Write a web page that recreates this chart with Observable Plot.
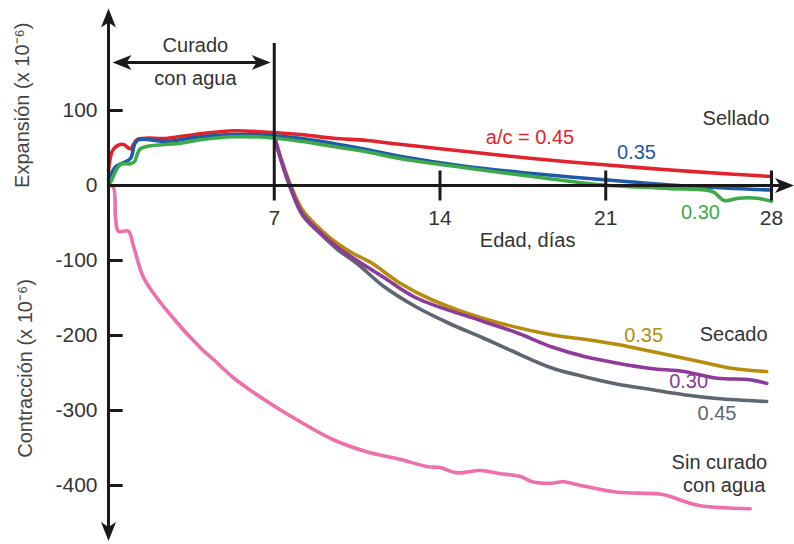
<!DOCTYPE html>
<html>
<head>
<meta charset="utf-8">
<script src="https://cdn.jsdelivr.net/npm/d3@7"></script>
<script src="https://cdn.jsdelivr.net/npm/@observablehq/plot@0.6"></script>
<style>
  html, body { margin: 0; padding: 0; background: #fff; }
  #chart { width: 794px; height: 544px; }
</style>
</head>
<body>
<div id="chart"></div>
<script>
// ---- Data (day, strain x 10^-6) ----
const sealed045 = [[0,20],[0.2,48],[0.6,55],[0.93,49],[1.2,61],[2.5,63],[3.9,69],[5.3,73],[6.7,71],[8.1,68],[9.5,63],[10.9,60],[12.3,55],[15.2,45],[17.9,36],[20.8,28],[23.6,21],[26.4,15],[28,12]];
const sealed035 = [[0,8],[0.3,25],[0.6,30],[0.93,36],[1.1,55],[1.25,61],[2.5,59],[3.9,65],[5.3,68],[6.7,67],[8.1,63],[9.5,56],[10.9,48],[12.3,39],[15.2,25],[17.9,16],[20.8,8],[23.6,1],[26.4,-4],[28,-6]];
const sealed030 = [[0,0],[0.1,5],[0.5,28],[0.93,29],[1.1,32],[1.35,49],[2.5,55],[3.0,56],[3.9,61],[5.3,65],[6.7,64],[8.1,59],[9.5,52],[10.9,45],[12.3,36],[15.2,23],[17.9,12],[20.8,1],[23.6,-4],[25.5,-8],[26.0,-20],[26.6,-17],[27.4,-17],[28,-21]];
const dried035 = [[7,66],[7.3,35],[7.7,0],[8.2,-33],[9.0,-60],[9.7,-78],[10.3,-90],[11.1,-103],[12.3,-130],[13.7,-153],[15.8,-177],[18.7,-199],[20.1,-205],[21.5,-212],[22.9,-221],[25.0,-235],[26.4,-244],[27.8,-248]];
const dried030 = [[7,66],[7.3,33],[7.7,-3],[8.2,-38],[9.0,-64],[9.7,-83],[10.5,-100],[11.6,-122],[13.0,-150],[15.8,-181],[17.3,-197],[18.7,-215],[20.1,-228],[21.5,-237],[22.9,-244],[24.3,-248],[25.7,-257],[27.1,-259],[27.8,-264]];
const dried045 = [[7,66],[7.3,32],[7.7,-5],[8.2,-40],[9.0,-66],[9.7,-86],[10.5,-104],[11.6,-134],[13.0,-162],[14.4,-184],[15.8,-203],[17.0,-220],[18.7,-243],[20.1,-255],[21.5,-265],[22.9,-272],[24.3,-279],[25.7,-284],[27.8,-288]];
const noCure = [[0,0],[0.2,-2],[0.3,-44],[0.42,-61],[0.84,-61],[1.05,-80],[1.5,-124],[2.5,-168],[3.9,-217],[4.4,-231],[5.3,-257],[6.7,-288],[8.1,-315],[9.5,-339],[10.9,-355],[12.3,-365],[13.5,-375],[14.0,-376],[14.7,-383],[15.7,-380],[16.5,-384],[17.4,-388],[17.9,-395],[18.7,-397],[19.2,-395],[20.1,-401],[21.5,-409],[23.4,-412],[24.3,-421],[25.0,-427],[27.1,-431]];

const xTicks = [7, 14, 21, 28];
const yTicks = [100, 0, -100, -200, -300, -400];
const yTickMarks = [100, -100, -200, -300, -400];

// ---- Annotations ----
const labels = [
  {t: "Sellado", x: 26.5, y: 89, c: "#333"},
  {t: "a/c = 0.45", x: 17.8, y: 64, c: "#e3232c"},
  {t: "0.35", x: 22.3, y: 44, c: "#1f5aa6"},
  {t: "0.30", x: 25.0, y: -36, c: "#3daa4a"},
  {t: "Secado", x: 26.4, y: -199, c: "#333"},
  {t: "0.35", x: 22.6, y: -200, c: "#b58c0c"},
  {t: "0.30", x: 24.5, y: -261, c: "#8d3a98"},
  {t: "0.45", x: 25.7, y: -304, c: "#5f6670"},
  {t: "Sin curado", x: 25.8, y: -369, c: "#333"},
  {t: "con agua", x: 26.0, y: -400, c: "#333"},
  {t: "Edad, días", x: 17.7, y: -73, c: "#333"},
  {t: "Curado", x: 3.67, y: 187, c: "#333"},
  {t: "con agua", x: 3.67, y: 143, c: "#333"}
];

const arrowHead = {
  draw(ctx) {
    ctx.moveTo(0, 0);
    ctx.lineTo(7.5, 19);
    ctx.lineTo(0, 14);
    ctx.lineTo(-7.5, 19);
    ctx.closePath();
  }
};
const heads = [
  {x: 0, y: 236, r: 0},
  {x: 0, y: -474, r: 180},
  {x: 28.95, y: 0, r: 90},
  {x: 0.17, y: 164, r: -90},
  {x: 6.85, y: 164, r: 90}
];

const px = d => d[0], py = d => d[1];
const lineOpt = (c) => ({x: px, y: py, stroke: c, strokeWidth: 3.6, curve: "catmull-rom", strokeLinejoin: "round", strokeLinecap: "round"});

const chart = Plot.plot({
  width: 794,
  height: 544,
  marginLeft: 108,
  marginRight: 23,
  marginTop: 110,
  marginBottom: 59,
  x: {domain: [0, 28], axis: null},
  y: {domain: [-400, 100], axis: null},
  style: {fontFamily: "'Liberation Sans', Arial, Helvetica, sans-serif", background: "#fff"},
  marks: [
    // curves
    Plot.line(noCure, lineOpt("#ee6fab")),
    Plot.line(dried045, lineOpt("#5f6670")),
    Plot.line(dried035, lineOpt("#b58c0c")),
    Plot.line(dried030, lineOpt("#8d3a98")),
    Plot.line(sealed045, lineOpt("#e3232c")),
    Plot.line(sealed035, lineOpt("#1f5aa6")),
    Plot.line(sealed030, lineOpt("#3daa4a")),
    // axes
    Plot.link([0], {x1: 0, x2: 0, y1: -468, y2: 228, stroke: "#1a1a1a", strokeWidth: 3}),
    Plot.link([0], {x1: 0, x2: 28.7, y1: 0, y2: 0, stroke: "#1a1a1a", strokeWidth: 3}),
    Plot.link(yTickMarks, {x1: 0, x2: 0.6, y1: d => d, y2: d => d, stroke: "#1a1a1a", strokeWidth: 3}),
    Plot.link(xTicks.filter(d => d !== 7), {x1: d => d, x2: d => d, y1: 20, y2: -20, stroke: "#1a1a1a", strokeWidth: 3}),
    Plot.link([7], {x1: d => d, x2: d => d, y1: 190, y2: -20, stroke: "#1a1a1a", strokeWidth: 3}),
    Plot.link([0], {x1: 0.4, x2: 6.65, y1: 164, y2: 164, stroke: "#1a1a1a", strokeWidth: 3}),
    Plot.dot(heads, {x: "x", y: "y", rotate: "r", symbol: arrowHead, fill: "#1a1a1a", stroke: "none"}),
    // tick labels
    Plot.text(xTicks, {x: d => d, y: 0, dy: 33, text: d => String(d), fontSize: 21, fill: "#333"}),
    Plot.text(yTicks, {x: 0, y: d => d, dx: -11, textAnchor: "end", text: d => String(d), fontSize: 21, fill: "#333"}),
    // axis titles
    Plot.text(["Expansión (x 10⁻⁶)"], {x: -3.63, y: 107, text: d => d, rotate: -90, fontSize: 20, fill: "#444"}),
    Plot.text(["Contracción (x 10⁻⁶)"], {x: -3.5, y: -244, text: d => d, rotate: -90, fontSize: 20, fill: "#444"}),
    // annotations
    Plot.text(labels, {x: "x", y: "y", text: "t", fill: "c", fontSize: 20})
  ]
});
document.getElementById("chart").appendChild(chart);
</script>
</body>
</html>
